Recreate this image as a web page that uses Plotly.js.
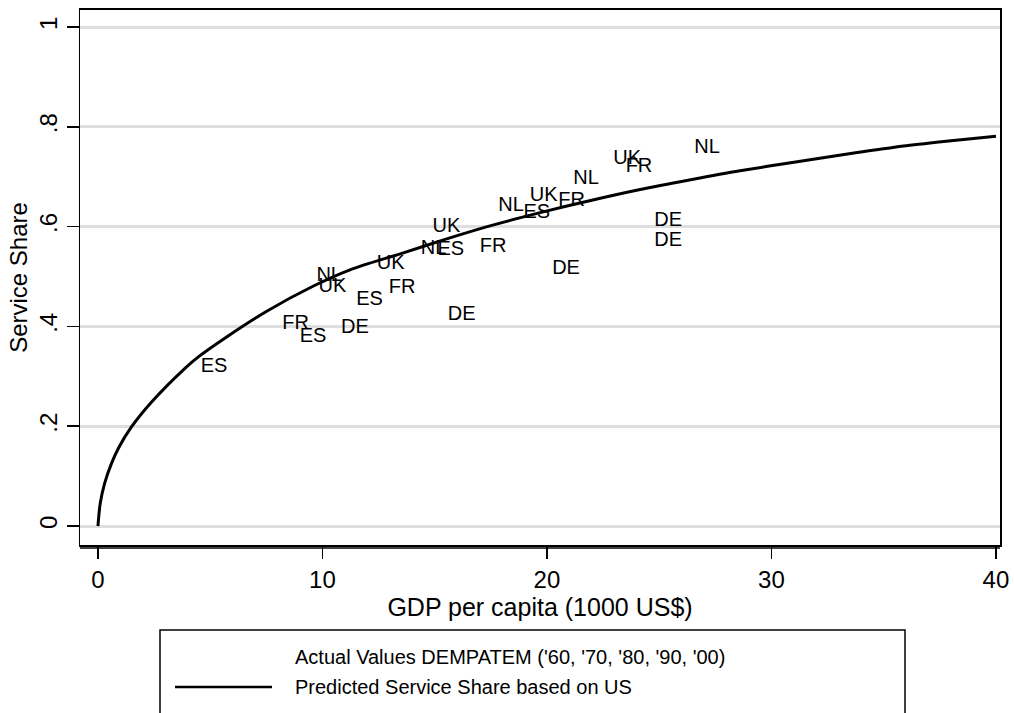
<!DOCTYPE html>
<html>
<head>
<meta charset="utf-8">
<script src="https://cdn.plot.ly/plotly-3.0.1.min.js"></script>
<style>
  html, body { margin: 0; padding: 0; background: #ffffff; }
  #chart { width: 1014px; height: 713px; }
</style>
</head>
<body>
<div id="chart"></div>
<script>
// Predicted service share curve
const curveX = [0, 0.1, 0.3, 0.6, 0.9, 1.5, 2.4, 3.9, 4.5, 5.7, 7.5, 9.6, 11.2, 13.5, 15.5, 17.5, 19.7, 21.9, 24.1, 26.4, 28.6, 31, 33.6, 36, 38, 40];
const curveY = [0, 0.045, 0.086, 0.125, 0.155, 0.199, 0.249, 0.317, 0.34, 0.378, 0.430, 0.481, 0.513, 0.546, 0.575, 0.602, 0.628, 0.652, 0.674, 0.694, 0.712, 0.729, 0.747, 0.762, 0.772, 0.781];

// Actual values (DEMPATEM), one label per country-decade
const countryLabels = ["ES", "ES", "ES", "ES", "ES",
                       "FR", "FR", "FR", "FR", "FR",
                       "DE", "DE", "DE", "DE", "DE",
                       "NL", "NL", "NL", "NL", "NL",
                       "UK", "UK", "UK", "UK", "UK"];
const gdpValues = [5.17, 9.58, 12.1, 15.72, 19.55,
                   8.8, 13.55, 17.6, 21.1, 24.1,
                   11.45, 16.2, 20.85, 25.4, 25.4,
                   10.3, 14.95, 18.4, 21.74, 27.13,
                   10.44, 13.04, 15.52, 19.85, 23.57];
const shareValues = [0.318, 0.379, 0.452, 0.553, 0.628,
                     0.404, 0.477, 0.559, 0.651, 0.719,
                     0.397, 0.423, 0.515, 0.611, 0.572,
                     0.502, 0.555, 0.641, 0.696, 0.758,
                     0.479, 0.526, 0.600, 0.662, 0.735];

const yTickVals = [0, 0.2, 0.4, 0.6, 0.8, 1];
const yTickText = ["0", ".2", ".4", ".6", ".8", "1"];
const xTickVals = [0, 10, 20, 30, 40];
const xTickText = ["0", "10", "20", "30", "40"];

const legendLabels = ["Actual Values DEMPATEM ('60, '70, '80, '90, '00)", "Predicted Service Share based on US"];
const xTitle = "GDP per capita (1000 US$)";
const yTitle = "Service Share";

const FONT = "Liberation Sans, Arial, sans-serif";

const traces = [
  {
    x: gdpValues, y: shareValues, text: countryLabels,
    mode: "text", type: "scatter",
    textposition: "middle center",
    textfont: { family: FONT, size: 20, color: "#000" },
    name: legendLabels[0], showlegend: false, hoverinfo: "skip", cliponaxis: false
  },
  {
    x: curveX, y: curveY, mode: "lines", type: "scatter",
    line: { color: "#000", width: 3, shape: "spline", smoothing: 0.8 },
    name: legendLabels[1], showlegend: false, hoverinfo: "skip"
  }
];

// legend geometry in paper coords (plot area: 80..1000 px, 10..545 px)
const px = v => (v - 80) / 920;
const py = v => (545 - v) / 535;

const layout = {
  width: 1014, height: 713,
  margin: { l: 80, r: 14, t: 10, b: 168 },
  paper_bgcolor: "#fff", plot_bgcolor: "#fff",
  font: { family: FONT, color: "#000", size: 20 },
  showlegend: false,
  xaxis: {
    range: [-0.8, 40.18],
    tickvals: xTickVals, ticktext: xTickText,
    ticks: "outside", ticklen: 12, tickwidth: 1.5, tickcolor: "#000",
    tickfont: { family: FONT, size: 24, color: "#000" },
    showgrid: false, zeroline: false,
    showline: true, linecolor: "#000", linewidth: 2, mirror: true,
    title: { text: xTitle, font: { family: FONT, size: 25, color: "#000" }, standoff: 0 }
  },
  yaxis: {
    range: [-0.038, 1.0341],
    tickvals: yTickVals, ticktext: yTickText,
    tickangle: -90,
    ticks: "outside", ticklen: 12, tickwidth: 1.5, tickcolor: "#000",
    tickfont: { family: FONT, size: 24, color: "#000" },
    showgrid: true, gridcolor: "#dedede", gridwidth: 3,
    zeroline: false,
    showline: true, linecolor: "#000", linewidth: 1.5, mirror: true,
    title: { text: yTitle, font: { family: FONT, size: 24, color: "#000" }, standoff: 0 }
  },
  shapes: [
    { type: "line", xref: "paper", yref: "paper", x0: 0, x1: 1, y0: py(548), y1: py(548),
      line: { color: "#000", width: 1.5 } },
    { type: "rect", xref: "paper", yref: "paper", x0: px(160), x1: px(905), y0: py(630), y1: py(760),
      line: { color: "#000", width: 1.5 }, fillcolor: "rgba(0,0,0,0)" },
    { type: "line", xref: "paper", yref: "paper", x0: px(175), x1: px(272), y0: py(687), y1: py(687),
      line: { color: "#000", width: 2.5 } }
  ],
  annotations: [
    { xref: "paper", yref: "paper", x: px(293), y: py(657), xanchor: "left", yanchor: "middle",
      text: legendLabels[0], showarrow: false, font: { family: FONT, size: 20, color: "#000" } },
    { xref: "paper", yref: "paper", x: px(293), y: py(687), xanchor: "left", yanchor: "middle",
      text: legendLabels[1], showarrow: false, font: { family: FONT, size: 20, color: "#000" } }
  ]
};

Plotly.newPlot("chart", traces, layout, { displayModeBar: false, staticPlot: true });
</script>
</body>
</html>
